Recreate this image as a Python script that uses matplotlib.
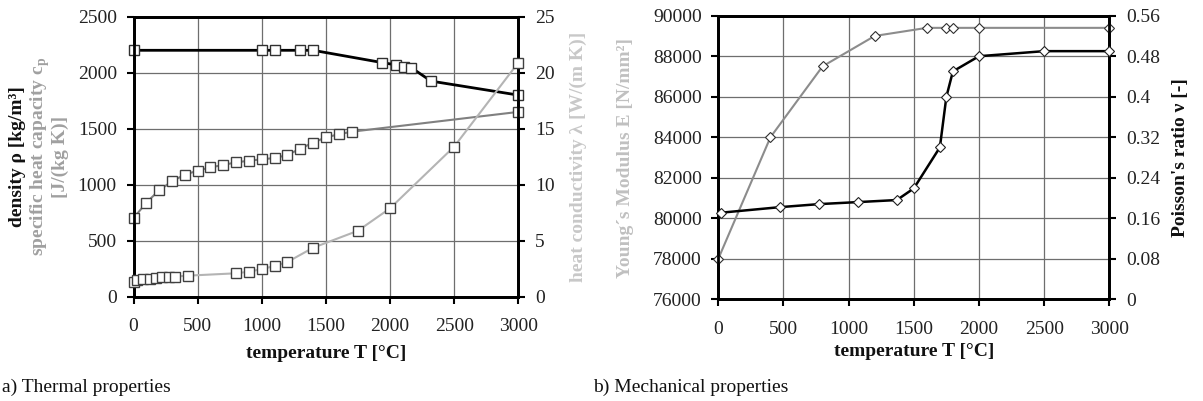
import matplotlib
matplotlib.use('Agg')
import matplotlib.pyplot as plt

plt.rcParams['font.family'] = ['Liberation Serif', 'DejaVu Serif']
plt.rcParams['mathtext.fontset'] = 'custom'
plt.rcParams['mathtext.rm'] = 'Liberation Serif'
plt.rcParams['mathtext.bf'] = 'Liberation Serif:bold'

# ---------------- data ----------------
rho_T = [0, 1000, 1100, 1300, 1400, 1940, 2045, 2110, 2165, 2320, 3000]
rho = [2200, 2200, 2200, 2200, 2200, 2090, 2070, 2055, 2045, 1925, 1800]

cp_T = [0, 100, 200, 300, 400, 500, 600, 700, 800, 900, 1000, 1100, 1200, 1300,
        1400, 1500, 1600, 1700, 3000]
cp = [700, 840, 950, 1030, 1090, 1125, 1155, 1176, 1200, 1214, 1227, 1238, 1265,
      1322, 1375, 1423, 1450, 1473, 1650]

lam_T = [0, 25, 75, 125, 175, 225, 275, 325, 425, 800, 900, 1000, 1100, 1200,
         1400, 1750, 2000, 2500, 3000]
lam = [1.35, 1.45, 1.55, 1.62, 1.68, 1.72, 1.78, 1.80, 1.88, 2.09, 2.23, 2.47,
       2.74, 3.10, 4.37, 5.89, 7.89, 13.4, 20.9]

E_T = [0, 400, 800, 1200, 1600, 1750, 1800, 2000, 3000]
E = [78000, 84000, 87500, 89000, 89400, 89400, 89400, 89400, 89400]

nu_T = [20, 475, 775, 1075, 1370, 1500, 1700, 1750, 1800, 2000, 2500, 3000]
nu = [0.171, 0.182, 0.188, 0.192, 0.196, 0.219, 0.30, 0.40, 0.45, 0.48, 0.49, 0.49]

x_ticks = [0, 500, 1000, 1500, 2000, 2500, 3000]
rho_ticks = [0, 500, 1000, 1500, 2000, 2500]
lam_ticks = [0, 5, 10, 15, 20, 25]
E_ticks = [76000, 78000, 80000, 82000, 84000, 86000, 88000, 90000]
nu_ticks = [0, 0.08, 0.16, 0.24, 0.32, 0.40, 0.48, 0.56]
nu_labels = ['0', '0.08', '0.16', '0.24', '0.32', '0.4', '0.48', '0.56']

# ---------------- figure ----------------
W, H = 1203, 401
fig = plt.figure(figsize=(W / 100, H / 100), dpi=100)

FS = 14
GRID_C = '#6e6e6e'
TXT_C = '#222222'


def style_axes(ax):
    for s in ax.spines.values():
        s.set_linewidth(2.0)
        s.set_color('black')
    ax.tick_params(direction='out', length=5, width=1.5, labelsize=FS,
                   colors='black', labelcolor=TXT_C, pad=7)
    ax.tick_params(axis='x', pad=10.5)


def fx(px):
    return px / W


def fy(py):
    return 1 - py / H


# ----- left chart -----
axL = fig.add_axes([fx(133.5), fy(296.7), fx(518.3) - fx(133.5), fy(16.7) - fy(296.7)])
axL.set_xlim(0, 3000)
axL.set_ylim(0, 2500)
axL.set_xticks(x_ticks)
axL.set_yticks(rho_ticks)
axL.grid(True, color=GRID_C, linewidth=0.9)
axL.set_axisbelow(True)
axL.plot(cp_T, cp, color='#808080', lw=1.5, marker='s', ms=6.5, mfc='white',
         mec='#404040', mew=1.0, zorder=3, clip_on=False)
axL.plot(rho_T, rho, color='black', lw=2.0, marker='s', ms=6.5, mfc='white',
         mec='#303030', mew=1.0, zorder=4, clip_on=False)
style_axes(axL)

axLr = axL.twinx()
axLr.set_ylim(0, 25)
axLr.set_yticks(lam_ticks)
axLr.plot(lam_T, lam, color='#b4b4b4', lw=1.5, marker='s', ms=6.5, mfc='white',
          mec='#404040', mew=1.0, zorder=3, clip_on=False)
style_axes(axLr)

# ----- right chart -----
axR = fig.add_axes([fx(718.3), fy(299.3), fx(1109.3) - fx(718.3), fy(15.7) - fy(299.3)])
axR.set_xlim(0, 3000)
axR.set_ylim(76000, 90000)
axR.set_xticks(x_ticks)
axR.set_yticks(E_ticks)
axR.grid(True, color=GRID_C, linewidth=0.9)
axR.set_axisbelow(True)
axR.plot(E_T, E, color='#8c8c8c', lw=1.5, marker='D', ms=5, mfc='white',
         mec='#303030', mew=0.8, zorder=3, clip_on=False)
style_axes(axR)

axRr = axR.twinx()
axRr.set_ylim(0, 0.56)
axRr.set_yticks(nu_ticks)
axRr.set_yticklabels(nu_labels)
axRr.plot(nu_T, nu, color='black', lw=1.8, marker='D', ms=5, mfc='white',
          mec='#202020', mew=0.8, zorder=4, clip_on=False)
style_axes(axRr)

# ----- labels -----
yc_L = fy(156.7)
yc_R = fy(157.5)
fig.text(fx(18), yc_L, 'density ρ [kg/m³]', rotation=90, ha='center', va='center',
         fontsize=FS, fontweight='bold', color='#111111')
fig.text(fx(40), yc_L, r'specific heat capacity c$_\mathregular{p}$', rotation=90,
         ha='center', va='center', fontsize=FS, fontweight='bold', color='#a0a0a0')
fig.text(fx(60), yc_L, '[J/(kg K)]', rotation=90, ha='center', va='center',
         fontsize=FS, fontweight='bold', color='#a0a0a0')
fig.text(fx(578), yc_L, 'heat conductivity λ [W/(m K)]', rotation=90, ha='center',
         va='center', fontsize=FS, fontweight='bold', color='#c8c8c8')

fig.text(fx(626), yc_R, 'Young´s Modulus E [N/mm²]', rotation=90, ha='center',
         va='center', fontsize=FS, fontweight='bold', color='#c0c0c0')
fig.text(fx(1181), yc_R, "Poisson's ratio ν [-]", rotation=90, ha='center',
         va='center', fontsize=FS, fontweight='bold', color='#111111')

fig.text((fx(133.5) + fx(518.3)) / 2, fy(353), 'temperature T [°C]', ha='center',
         va='center', fontsize=FS, fontweight='bold', color='#111111')
fig.text((fx(718.3) + fx(1109.3)) / 2, fy(352), 'temperature T [°C]', ha='center',
         va='center', fontsize=FS, fontweight='bold', color='#111111')

fig.text(fx(2), fy(387), 'a) Thermal properties', ha='left', va='center',
         fontsize=FS, color='#111111')
fig.text(fx(593), fy(387), 'b) Mechanical properties', ha='left', va='center',
         fontsize=FS, color='#111111')

fig.savefig('out.png', dpi=100)
